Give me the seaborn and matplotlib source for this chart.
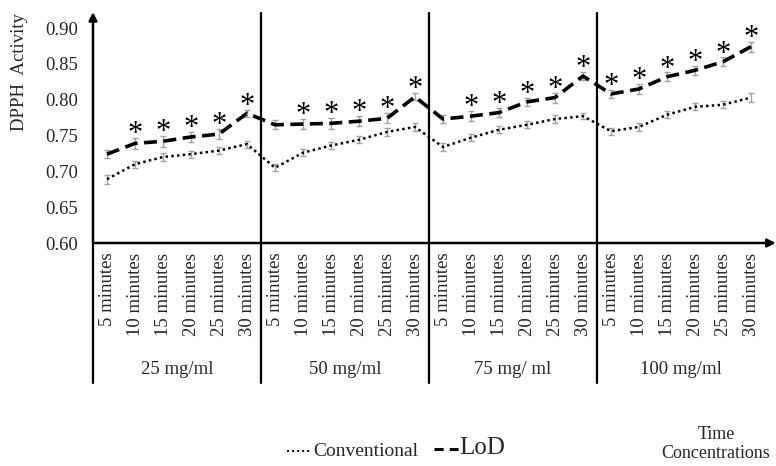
import numpy as np
import pandas as pd
import matplotlib
matplotlib.use("Agg")
import matplotlib.pyplot as plt
import matplotlib.transforms as mtransforms
from matplotlib.lines import Line2D
import seaborn as sns

# ---- data ----
concentrations = ["25 mg/ml", "50 mg/ml", "75 mg/ ml", "100 mg/ml"]
times = ["5 minutes", "10 minutes", "15 minutes", "20 minutes", "25 minutes", "30 minutes"]

conventional = [0.689, 0.710, 0.720, 0.724, 0.729, 0.738,
                0.705, 0.726, 0.736, 0.744, 0.755, 0.762,
                0.734, 0.747, 0.758, 0.765, 0.773, 0.777,
                0.756, 0.762, 0.779, 0.790, 0.793, 0.803]
conventional_err = [0.006, 0.005, 0.005, 0.005, 0.005, 0.005,
                    0.005, 0.005, 0.005, 0.005, 0.006, 0.005,
                    0.005, 0.005, 0.005, 0.005, 0.005, 0.004,
                    0.005, 0.005, 0.005, 0.005, 0.005, 0.006]
lod = [0.724, 0.739, 0.742, 0.748, 0.752, 0.781,
       0.765, 0.766, 0.767, 0.770, 0.774, 0.804,
       0.773, 0.777, 0.782, 0.797, 0.803, 0.833,
       0.808, 0.815, 0.832, 0.841, 0.853, 0.874]
lod_err = [0.006, 0.008, 0.008, 0.007, 0.007, 0.005,
           0.006, 0.007, 0.008, 0.007, 0.007, 0.005,
           0.006, 0.007, 0.006, 0.006, 0.007, 0.006,
           0.006, 0.007, 0.006, 0.006, 0.006, 0.007]
significant = [0, 1, 1, 1, 1, 1,
               0, 1, 1, 1, 1, 1,
               0, 1, 1, 1, 1, 1,
               1, 1, 1, 1, 1, 1]

# ---- build frame ----
n = len(lod)
pos = np.arange(n) + 0.5
tick_labels = times * len(concentrations)
df = pd.DataFrame({
    "pos": np.concatenate([pos, pos]),
    "value": conventional + lod,
    "series": ["Conventional"] * n + ["LoD"] * n,
})

sns.set_theme(style="white")
plt.rcParams["font.family"] = ["Liberation Serif", "DejaVu Serif"]

fig = plt.figure(figsize=(7.76, 4.66), dpi=100)
ax = fig.add_axes([93 / 776, 1 - 243 / 466, (765 - 93) / 776, (243 - 13) / 466])

# error bars (gray)
ax.errorbar(pos, conventional, yerr=conventional_err, fmt="none", ecolor="#a0a0a0",
            elinewidth=1.0, capsize=2.5, capthick=1.0, zorder=2)
ax.errorbar(pos, lod, yerr=lod_err, fmt="none", ecolor="#a0a0a0",
            elinewidth=1.0, capsize=2.5, capthick=1.0, zorder=2)

sns.lineplot(data=df, x="pos", y="value", hue="series", style="series",
             palette={"Conventional": "black", "LoD": "black"},
             dashes={"Conventional": (1.0, 1.3), "LoD": (3.6, 1.8)},
             size="series", sizes={"Conventional": 1.8, "LoD": 2.6},
             legend=False, ax=ax, zorder=3)

# significance stars
for x, v, e, s in zip(pos, lod, lod_err, significant):
    if s:
        ax.text(x, v + e - 0.0155, "*", ha="center", va="bottom", fontsize=22,
                color="black", zorder=4)

ax.set_xlim(0, n)
ax.set_ylim(0.60, 0.921)
ax.set_yticks([0.60, 0.65, 0.70, 0.75, 0.80, 0.85, 0.90])
ax.set_yticklabels([f"{t:.2f}" for t in ax.get_yticks()])
ax.set_xticks(pos)
ax.set_xticklabels(tick_labels, rotation=90, fontsize=13.5)
ax.tick_params(axis="x", length=0, pad=7)
ax.tick_params(axis="y", length=0, pad=11, labelsize=13.5)
ax.set_xlabel("")
ax.set_ylabel("")
for sp in ax.spines.values():
    sp.set_visible(False)

trans = mtransforms.blended_transform_factory(ax.transData, ax.transAxes)
# group separators and left axis extension
for gx in [0, 6, 12, 18]:
    ax.add_line(Line2D([gx, gx], [-0.6087, 1.0 if gx else 0.0], transform=trans,
                       color="black", lw=1.6, clip_on=False, zorder=5))
# group labels
for i, c in enumerate(concentrations):
    ax.text(i * 6 + 3, -0.55, c, transform=trans, ha="center", va="center", fontsize=13.5)

# axis arrows
ax.annotate("", xy=(1.016, 0), xytext=(0, 0), xycoords="axes fraction",
            arrowprops=dict(arrowstyle="-|>", lw=1.8, color="black", mutation_scale=12,
                            shrinkA=0, shrinkB=0), zorder=6)
ax.annotate("", xy=(0, 1.004), xytext=(0, 0), xycoords="axes fraction",
            arrowprops=dict(arrowstyle="-|>", lw=1.8, color="black", mutation_scale=12,
                            shrinkA=0, shrinkB=0), zorder=6)

# y label
fig.text(20 / 776, 1 - 72 / 466, "DPPH  Activity", rotation=90, ha="center", va="center",
         fontsize=13.5)

# custom legend
fig.add_artist(Line2D([287 / 776, 312 / 776], [1 - 451 / 466] * 2, color="black", lw=1.4,
                      dashes=(1.0, 1.6)))
fig.text(313 / 776, 1 - 451 / 466, "Conventional", ha="left", va="center", fontsize=14)
fig.add_artist(Line2D([434 / 776, 458 / 776], [1 - 449 / 466] * 2, color="black", lw=2.2,
                      dashes=(3.0, 2.0)))
fig.text(459 / 776, 1 - 448 / 466, "LoD", ha="left", va="center", fontsize=18)

fig.text(716 / 776, 1 - 444 / 466, "Time\nConcentrations", ha="center", va="center",
         fontsize=13, linespacing=1.15)

fig.savefig("out.png", dpi=100)
